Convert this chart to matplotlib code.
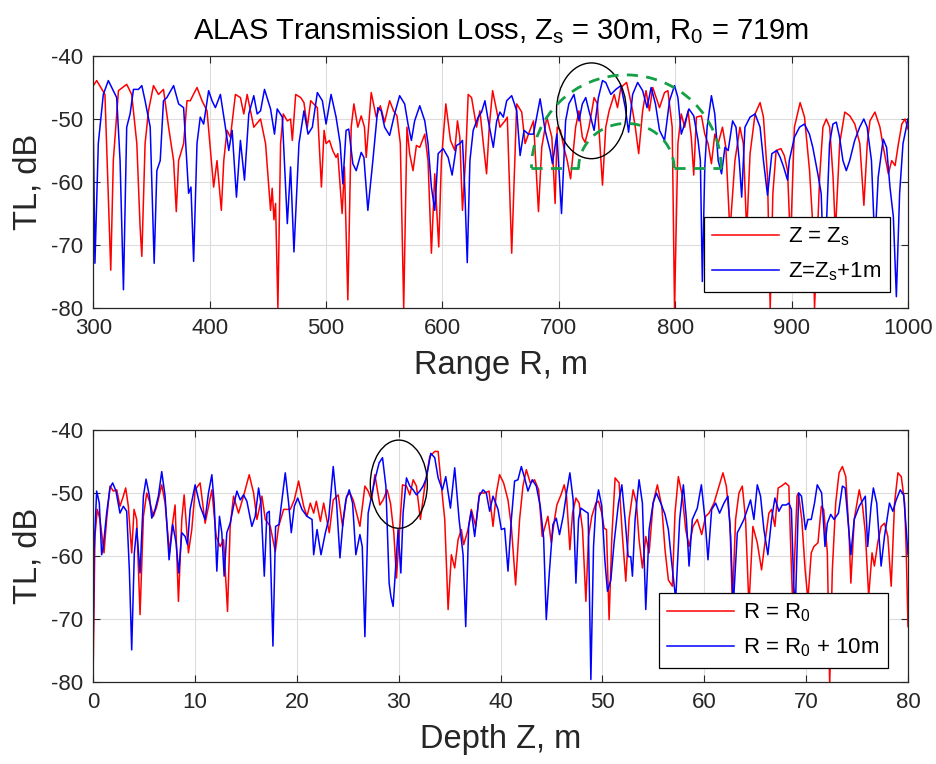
import matplotlib
matplotlib.use("Agg")
import matplotlib.pyplot as plt
from matplotlib.patches import Ellipse, Arc
import numpy as np

plt.rcParams['font.family'] = ['Liberation Sans', 'DejaVu Sans']
plt.rcParams['mathtext.default'] = 'regular'
plt.rcParams['axes.unicode_minus'] = False

# ---------------- data: top panel (TL vs range) ----------------
range_zs = [300, 302.9, 310, 315, 317.2, 321.6, 328.7, 333, 337.4, 340.2, 341.7, 344.5, 347.4, 351.7, 356, 360.3,
            364.7, 369, 371.3, 373.3, 377.6, 380.5, 383.3, 389.1, 393.4, 397.7, 403.4, 406.3, 410, 412.1, 414.9,
            417.8, 422.1, 426.4, 429.3, 432.2, 437.9, 443.7, 448, 452.3, 453.7, 455.2, 456.6, 458.6, 460.9, 463.2,
            466.7, 469.5, 471, 473.9, 478.2, 481, 483.9, 486.8, 492.5, 496, 498.3,
            500, 502.9, 505.7, 508.6, 510.1, 513.8, 515.8, 518.7, 521.6, 523.9, 527.3, 530.2, 533, 534.5, 538.8,
            543.1, 546.6, 550.3, 554.6, 558, 560.9, 563.8, 566.7, 569.5, 571.8, 574.7, 577.6, 580.5, 584.8, 587.6,
            590.5, 593.4, 596.8, 599.1, 602.9, 606.9, 610.6, 612.9, 614.9, 617.2, 619.8, 622.1, 625, 629.3, 632.2,
            635.1, 637.9, 640.2, 643.1, 646.6, 649.4, 653.7, 655.7, 659.5, 663.8, 668.1, 671, 673.9, 678.2, 682.5,
            685.3, 689.7, 694, 696.8,
            698.6, 701.4, 704.3, 707.2, 710.1, 714.4, 717.3, 720.2, 722.5, 725.9, 730.3, 733.1, 737.5, 740.3, 743.2,
            747.6, 750.4, 753.3, 758.2, 760.5, 763.4, 765.7, 768.6, 772, 774.9, 777.8, 780.7, 783.6, 786.5, 790.8,
            793.7, 797.4, 799.4, 802.3, 805.2, 808.1, 811, 813.8, 815.9, 818.2, 822.5, 825.4, 828.2, 831.1, 834,
            836.9, 840.6, 843.5, 847, 851.3, 855.6, 858.5, 861.4, 864.3, 868.6, 872.9, 875.8, 879.3, 881.6, 883.9,
            886.7, 890.8, 893.7, 896.5,
            899, 902.4, 907.3, 911.1, 915.4, 918.3, 919.7, 924.1, 926.9, 929.8, 932.7, 935.6, 937.6, 941.3, 945.7,
            950, 954.3, 958.6, 962.1, 965, 967.3, 971.6, 975.9, 978.8, 983.1, 986, 988.9, 991.8, 994.7, 997.5, 1000]
tl_zs = [-44.7, -43.9, -46.1, -74, -56.6, -45.5, -44.5, -46.1, -53.9, -67.1, -71.8, -53.9, -48.7, -44.7, -46.1, -45.3,
         -51.3, -56.6, -64.7, -56.6, -53.9, -47.1, -47.1, -45, -47.1, -48.7, -60.8, -56.6, -64.5, -56.6, -51.8,
         -52.9, -46.1, -46.6, -49.2, -46.1, -51.3, -50, -53.9, -64.5, -61, -66, -63.4, -80, -53.9, -49.2,
         -50.3, -50, -53.4, -46.1, -46.6, -47.4, -51.3, -47.1, -48.2, -60.8, -51.8,
         -53.9, -53.4, -55, -56.1, -55.5, -65, -57.6, -78.7, -51.3, -47.6, -51.3, -49.5, -51.3, -56.1, -45.8,
         -49.7, -47.9, -50.5, -47.1, -48.7, -49.5, -53.9, -80, -51.3, -55.5, -58.2, -54.2, -54.5, -52.4, -56.6,
         -71.3, -58.7, -70.3, -56.6, -47.6, -53.4, -55, -50.3, -52.9, -64.5, -56.6, -46.1, -46.6, -51.3, -48.7,
         -53.9, -58.7, -51.3, -45.5, -48.7, -51.3, -50.3, -49.7, -71.3, -47.6, -48.9, -53.9, -52.4, -50.3, -64.7,
         -54.5, -49.7, -52.9, -63.4,
         -51.3, -51.8, -54.5, -56.6, -59.5, -51.3, -48.7, -52.9, -53.7, -51.3, -46.6, -47.6, -60.5, -51.3, -48.7,
         -46.1, -48.2, -45, -44.2, -46.1, -48.7, -51.3, -55.5, -48.7, -45.5, -48.7, -45, -46.6, -48.2, -45.8,
         -45.5, -51.3, -80, -53.9, -49.2, -51.3, -48.7, -52.9, -58.9, -49.7, -49.5, -52.4, -53.9, -57.1, -52.4,
         -53.9, -51.3, -54.5, -68, -56.6, -51.3, -53.9, -68, -55.5, -49.2, -47.4, -49.7, -59.2, -80, -61.8,
         -55, -54.7, -55.8, -58.2,
         -70, -51.3, -47.4, -49.7, -58.2, -67.1, -80, -59.2, -51.3, -50, -51.3, -59.2, -68, -53.9, -48.9,
         -49.5, -50.8, -53.9, -63.7, -53.9, -50.3, -48.9, -51.3, -54.5, -58.7, -56.6, -57.4, -53.9, -50.8, -50, -51.6]

range_zs1 = [300, 301.4, 304.3, 308.6, 312.9, 317.2, 320.1, 323, 325.9, 328.7, 331.6, 334.5, 338.8, 341.7, 344.5,
             348.9, 352.3, 354.6, 357.5, 360.3, 363.2, 369, 373.3, 377.6, 381.9, 383.9, 386.2, 389.1, 391.9, 394.8,
             399.1, 402, 404.9, 409.2, 413.5, 416.4, 419.3, 423, 426.4, 429.9, 433.6, 437.9, 440.8, 443.7, 447.1,
             452.3, 455.7, 458, 462.4, 466.7, 469.5, 472.4, 476.7, 481, 484.5, 488.2, 492.5, 496.8,
             500, 504.3, 508.6, 512.1, 514.4, 517.2, 519.5, 523, 525.9, 530.2, 532.5, 535.9, 540.2, 544.5, 547.4,
             550.3, 554.6, 558.9, 563.2, 567.5, 570.4, 573.3, 576.1, 580.5, 584.8, 587.6, 590.5, 593.4, 596.3, 600.6,
             604.9, 608.3, 612.1, 614.9, 617.2, 619.3, 621.3, 623.6, 626.4, 630.7, 633.6, 636.5, 639.4, 643.7, 646.6,
             649.4, 652.3, 655.2, 659.5, 663.8, 666.7, 670.1, 673.9, 678.2, 683.9, 688.2, 692.5, 694.5, 698.3,
             702.3, 705.8, 708.6, 713, 717.3, 720.2, 723.1, 725.9, 730.3, 734, 737.5, 740.3, 744.7, 749, 753.3,
             757.1, 759.9, 763.4, 767.7, 772, 775.8, 779.3, 783, 786.5, 790.8, 795.1, 799.4, 802.3, 805.2, 807.2,
             811.8, 815.9, 819.6, 821.6, 823.3, 825.4, 827.4, 831.1, 834, 836.9, 839.8, 842.7, 845.5, 849.3, 852.2,
             855, 857.1, 859.9, 864.3, 868.6, 872.9, 875.8, 879.3, 883, 887.3, 890.2, 893.1, 896.5,
             898, 902.4, 906.8, 911, 915.3, 918.2, 922.5, 925.4, 928, 932.6, 935.5, 938.4, 941.2, 944.1, 947,
             949.9, 954.2, 958.5, 962, 964.9, 968.6, 971.5, 974.4, 978.7, 981.6, 984.5, 987.4, 990, 992.8, 995.7, 1000]
tl_zs1 = [-51.8, -72.9, -53.9, -46.1, -43.9, -45.5, -46.6, -56.6, -77.1, -51.3, -49.2, -45.3, -45.3, -44.7, -47.1,
          -51.3, -72.9, -58.2, -56.6, -47.1, -46.6, -44.7, -47.6, -48.2, -61.8, -60.8, -72.6, -53.9, -49.7, -50.8,
          -45.5, -47.1, -48.2, -46.1, -51.3, -55, -51.8, -62.4, -53.4, -59.7, -49.2, -46.3, -49.2, -48.7, -45.3,
          -48.4, -52.4, -48.4, -49.7, -66.6, -57.6, -71.1, -53.9, -48.7, -52.4, -51.3, -45.8, -47.1,
          -50.8, -46.1, -49.7, -53.9, -60.3, -51.8, -51.6, -57.1, -58.2, -55.3, -56.1, -64.5, -56.6, -48.2, -48.7,
          -51.3, -52.6, -49.2, -46.3, -47.6, -50.8, -53.4, -50.3, -47.9, -50.3, -53.9, -60.8, -64.5, -55.5, -54.7,
          -56.1, -58.9, -54.2, -53.9, -53.4, -61.8, -72.8, -56.6, -51.8, -49.7, -48.9, -47.1, -50.3, -54.5, -50.3,
          -48.9, -49.7, -47.1, -46.3, -48.7, -55.8, -51.8, -52.4, -52.4, -46.8, -51.8, -55, -57.1, -52.4,
          -65, -50.3, -47.6, -46.1, -50.3, -47.6, -46.6, -48.7, -51.8, -46.6, -43.9, -44.2, -46.1, -45.3, -44.7,
          -48.2, -52.1, -46.1, -44.2, -45.5, -48.2, -45, -47.6, -51.8, -53.4, -47.1, -44.7, -46.6, -52.4, -51.3,
          -48.4, -49.5, -53.4, -56.6, -75.8, -57.6, -51.3, -46.3, -49.2, -56.6, -58.7, -54.5, -55, -50.3, -51.3,
          -56.6, -62.4, -51.3, -49.7, -49.2, -51.3, -56.6, -62.1, -55.5, -55, -56.1, -57.6, -59.7,
          -56.6, -52.9, -51.3, -50.8, -52.4, -54.5, -58.7, -61.8, -76, -53.9, -50.8, -50.5, -52.9, -56.6, -58.2,
          -56.6, -53.4, -51.3, -50, -51.3, -56.6, -70, -59.2, -53.2, -54.5, -60.8, -65.5, -78.2, -61.8, -53.9, -50]

# ---------------- data: bottom panel (TL vs depth) ----------------
depth_r0 = [0, 0.16, 0.39, 0.66, 1.05, 1.31, 1.64, 1.97, 2.3, 2.62, 2.95, 3.18, 3.44, 3.77, 4.0, 4.26, 4.59, 4.92,
            5.25, 5.57, 5.9, 6.23, 6.72, 7.05, 7.48, 7.7, 8.03, 8.36, 8.69, 8.92, 9.34, 9.67, 10, 10.49, 10.98,
            11.64, 12.07, 12.46, 12.79, 13.18, 13.44, 13.77, 14.26, 14.75, 15.31, 15.74, 16.07, 16.56, 16.89, 17.38,
            17.87, 18.2, 18.69, 19.34, 19.74, 20.16, 20.66, 20.98, 21.31, 21.64, 21.9, 22.3, 22.62,
            23.17, 23.56, 24.05, 24.48, 24.87, 25.2, 25.52, 25.85, 26.18, 26.67, 26.99, 27.32, 27.65, 28.14, 28.46,
            28.86, 29.18, 29.51, 29.77, 30.03, 30.36, 30.75, 31.08, 31.41, 31.73, 32.12, 32.55, 33.04, 33.53, 33.86,
            34.18, 34.51, 34.84, 35.16, 35.49, 35.82, 36.14, 36.37, 36.8, 37.12, 37.55, 37.94, 38.43, 38.86, 39.25,
            39.58, 39.9, 40.29, 40.72, 41.05, 41.47, 41.86, 42.19, 42.52, 42.91, 43.33, 43.73, 44.08, 44.64, 44.97,
            45.29, 45.52, 45.92, 46.24, 46.47, 46.8, 47.06, 47.39, 47.71, 48.04, 48.37, 48.63, 48.95, 49.35, 49.61,
            49.93, 50.16, 50.39, 50.65, 50.92, 51.24, 51.63, 51.96, 52.29, 52.61, 53.01, 53.33, 53.59, 53.92, 54.25,
            54.58, 54.97, 55.39, 55.82, 56.14, 56.47, 56.86, 57.12, 57.45, 57.84, 58.17, 58.5, 58.89, 59.31, 59.74,
            60.13, 60.46, 60.95, 61.44, 61.83, 62.16, 62.52, 62.75, 63.07, 63.4, 63.73, 64.05, 64.38, 64.77, 65.2,
            65.62, 65.95, 66.34, 66.6, 66.93, 67.25, 67.58, 67.97, 68.3,
            68.45, 68.68, 69.1, 69.24, 69.57, 69.9, 70.17, 70.5, 70.76, 71.16, 71.49, 71.72, 72.08, 72.31, 72.57,
            72.9, 73.23, 73.56, 73.89, 74.22, 74.39, 74.72, 75.21, 75.54, 75.81, 76.14, 76.47, 76.7, 77.03, 77.36,
            77.69, 78.02, 78.35, 78.68, 79.01, 79.34, 79.67, 79.83, 80]
tl_r0 = [-76.5, -56.9, -52.6, -54.2, -59.5, -54.2, -48.9, -49.7, -49.5, -52.1, -50.5, -49.2, -52.1, -59.5, -52.6,
         -54.2, -69.3, -53.7, -50, -51.6, -53.7, -52.1, -48.7, -51.6, -59.5, -55.8, -51.9, -67.2, -54.2, -50.3,
         -59.5, -55.8, -49.5, -48.4, -54.8, -49.5, -56.9, -58.5, -57.4, -68.8, -55.3, -50.5, -53.2, -50.5, -47.1,
         -50, -54.2, -50.5, -54.2, -55.3, -59.3, -55.3, -52.6, -52.6, -51.1, -48.1, -52.1, -53.7, -51.6, -53.2,
         -51.3, -54.5, -51.6,
         -56.3, -51.1, -50.3, -55.3, -50.5, -50, -51.1, -53.2, -55.3, -48.9, -49.7, -51.1, -47.1, -51.9, -51.1,
         -49.5, -51.6, -56.3, -63.5, -56.9, -48.7, -48.9, -50.3, -47.9, -48.9, -54.2, -48.9, -44.2, -43.4, -43.4,
         -48.9, -54.2, -68.5, -59.8, -61.9, -57.4, -55.8, -58.2, -55.8, -52.6, -55.3, -50, -50, -49.7, -55.3,
         -50, -47.1, -48.4, -51.1, -55.3, -64.6, -54.2, -48.9, -46.3, -48.4, -47.9, -49.5, -56.9, -53.7, -57.9,
         -54.2, -51.9, -50.3, -48.7, -50.5, -59, -53.2, -50.8, -51.6, -55.8, -67.2, -56.9, -53.7, -51.6, -51.3,
         -53.2, -55.6, -55.8, -70.1, -56.9, -47.6, -48.4, -56.9, -64, -54.2, -49.5, -51.6, -57.4, -61.9, -56.9,
         -59.5, -51.6, -48.7, -52.1, -59, -63.8, -64.8, -53.2, -47.4, -50.5, -55.8, -58.5, -55.3, -54.2, -56.6,
         -53.7, -53.2, -51.6, -48.9, -46.8, -48.9, -54.8, -68, -54.2, -50, -48.9, -54.2, -68, -55.3, -57.9,
         -62.2, -57.9, -53.2, -52.6, -55.3, -49.2, -48.9, -48.4, -48.9,
         -56.9, -68, -50.5, -50, -54.2, -62.2, -66.9, -59.5, -58.5, -57.9, -52.1, -52.6, -59.5, -80.5, -62.2,
         -51.6, -46.8, -45.8, -47.4, -56.9, -64.3, -54.2, -49.5, -52.1, -56.3, -66.4, -59.5, -61.6, -57.9, -55.3,
         -54.8, -56.9, -64.8, -51.6, -46.8, -47.4, -51.6, -59.5, -71.2]

depth_r10 = [0, 0.07, 0.33, 0.59, 0.82, 0.98, 1.31, 1.64, 1.9, 2.23, 2.62, 2.95, 3.28, 3.54, 3.77, 4.03, 4.26, 4.59,
             4.92, 5.18, 5.51, 5.74, 6.07, 6.39, 6.72, 7.05, 7.44, 7.8, 8.13, 8.39, 8.69, 9.02, 9.25, 9.51, 10,
             10.49, 10.98, 11.31, 11.64, 11.87, 12.13, 12.39, 12.62, 12.85, 13.11, 13.44, 13.77, 14.1, 14.43, 14.75,
             15.08, 15.57, 15.9, 16.23, 16.46, 16.79, 17.05, 17.28, 17.64, 17.9, 18.23, 18.52, 18.85, 19.18, 19.44,
             19.74, 20.07, 20.49, 20.98, 21.48, 21.64, 21.97, 22.36, 22.79, 23.11,
             23.56, 23.89, 24.22, 24.54, 24.8, 25.13, 25.46, 25.78, 26.18, 26.41, 26.67, 26.99, 27.32, 27.65, 28.07,
             28.4, 28.73, 29.05, 29.22, 29.44, 29.67, 29.93, 30.2, 30.42, 30.75, 31.08, 31.41, 31.73, 32.06, 32.39,
             32.71, 33.14, 33.53, 33.86, 34.28, 34.61, 35.07, 35.49, 35.92, 36.31, 36.57, 36.86, 37.12, 37.45, 37.88,
             38.27, 38.59, 38.92, 39.25, 39.74, 40.07, 40.39, 40.72, 41.05, 41.37, 41.7, 42.03, 42.35, 42.68, 43.1,
             43.5, 43.89, 44.22, 44.48, 44.8, 45.13, 45.46, 45.78,
             46.14, 46.47, 46.8, 47.12, 47.39, 47.65, 47.88, 48.3, 48.59, 48.86, 49.12, 49.35, 49.61, 49.93, 50.23,
             50.49, 50.82, 51.14, 51.57, 51.9, 52.22, 52.52, 52.78, 52.94, 53.2, 53.59, 53.92, 54.25, 54.58, 54.97,
             55.29, 55.72, 56.14, 56.47, 56.8, 57.19, 57.58, 57.94, 58.24, 58.5, 58.82, 59.31, 59.71, 60.07, 60.36,
             60.72, 61.11, 61.5, 61.93, 62.32, 62.58, 62.84, 63.24, 63.56, 63.89, 64.22, 64.54, 64.87, 65.2, 65.52,
             65.85, 66.24, 66.6, 66.93, 67.32, 67.65, 68.04, 68.3,
             68.55, 68.78, 68.94, 69.27, 69.54, 69.93, 70.17, 70.5, 70.82, 71.09, 71.52, 71.85, 72.08, 72.41, 72.74,
             73.17, 73.56, 73.83, 74.16, 74.39, 74.72, 75.21, 75.81, 76.04, 76.37, 76.6, 76.93, 77.36, 77.69, 78.18,
             78.51, 78.84, 79.24, 79.57, 79.83, 80]
tl_r10 = [-72.2, -59.5, -49.7, -51.6, -59.8, -58.5, -53.2, -49.2, -48.4, -49.7, -53.2, -52.1, -52.9, -62.2, -74.9,
          -59.5, -55.6, -62.7, -50.5, -47.8, -50.5, -54, -52.6, -50.5, -46.6, -50.5, -60.6, -55, -57.9, -62.7,
          -56.3, -56.9, -58.2, -52.6, -48.7, -52.1, -54.2, -50, -47.1, -51.6, -62.4, -53.7, -56.3, -63.2, -56.3,
          -54.8, -52.1, -49.7, -51.1, -50.3, -51.3, -55.3, -53.7, -49.2, -51.6, -63.2, -53.2, -52.9, -74.3, -55.3,
          -55, -51.1, -46.8, -51.6, -56.3, -52.1, -50.8, -52.6, -53.7, -54.2, -59.8, -55.8, -59.8, -56.3, -54.2,
          -45.8, -51.6, -60.3, -54.2, -51.1, -49.5, -51.6, -59.8, -56.6, -58.5, -72.8, -53.2, -50.5, -47.9, -45.2,
          -44.4, -48.9, -64.3, -66.4, -68, -62.2, -55.8, -62.7, -53.2, -47.6, -48.9, -49.5, -50.3, -49.7, -48.9,
          -47.6, -43.7, -44.4, -47.6, -49.5, -47.4, -52.4, -46, -54.2, -59.8, -71.2, -55.3, -52.9, -56.9, -50.5,
          -49.5, -50, -52.9, -50.5, -52.6, -55.8, -55.6, -62.4, -54.2, -48.1, -47.9, -45.8, -47.6, -49.7, -47.9,
          -48.9, -52.1, -57.1, -70.1, -62.2, -55, -54, -56.6,
          -53.7, -50, -46.8, -51.1, -64.3, -54.2, -52.4, -52.9, -53.2, -79.6, -58.5, -52.1, -49.5, -52.1, -60.6,
          -65.6, -63.8, -57.9, -51.6, -48.7, -54.2, -60.1, -60.1, -63.2, -54.2, -47.9, -51.6, -68.5, -55.8, -51.6,
          -50, -51.6, -53.4, -55.8, -61.1, -66.9, -54.2, -48.7, -54.2, -61.6, -54.2, -52.4, -48.7, -54.2, -60.6,
          -52.6, -51.6, -53.2, -51.6, -50.5, -56.9, -68, -56.3, -55.3, -54.2, -52.6, -51.1, -54.2, -48.7, -50.5,
          -55.8, -59.8, -54.2, -50.8, -52.9, -51.9, -51.9, -51.6,
          -52.6, -64.8, -68, -50, -50.5, -55.8, -54.2, -54.2, -51.6, -48.7, -50, -58.5, -54.8, -53.4, -54.2,
          -53.2, -48.9, -49.2, -55.3, -59.8, -54.2, -52.1, -50.5, -58.5, -52.1, -49.2, -51.6, -61.6, -56.9, -51.6,
          -52.9, -51.1, -49.5, -50.3, -55.8, -59.8]

title_text = 'ALAS Transmission Loss, Z$_s$ = 30m, R$_0$ = 719m'
top_labels = ['Z = Z$_s$', 'Z=Z$_s$+1m']
bottom_labels = ['R = R$_0$', 'R = R$_0$ + 10m']

# ---------------- figure ----------------
fig = plt.figure(figsize=(9.36, 7.64), dpi=100)
W, H = 936, 764
ax1 = fig.add_axes([93.3 / W, 1 - 308 / H, (908 - 93.3) / W, 252 / H])
ax2 = fig.add_axes([93.3 / W, 1 - 682 / H, (908 - 93.3) / W, 252 / H])

txtc = '#262626'
lw = 1.1

def style(ax):
    ax.set_ylim(-80, -40)
    ax.set_yticks([-80, -70, -60, -50, -40])
    ax.grid(True, color='#dcdcdc', linewidth=0.8)
    ax.set_axisbelow(True)
    ax.tick_params(direction='in', length=5, width=0.8, colors=txtc, labelsize=16,
                   top=True, right=True, pad=7)
    for s in ax.spines.values():
        s.set_color(txtc)
        s.set_linewidth(0.9)

ax1.plot(range_zs, tl_zs, color='red', lw=lw, label=top_labels[0])
ax1.plot(range_zs1, tl_zs1, color='blue', lw=lw, label=top_labels[1])
ax1.set_xlim(300, 1000)
ax1.set_xticks(np.arange(300, 1001, 100))
style(ax1)
ax1.set_xlabel('Range R, m', fontsize=23.5, color=txtc, labelpad=8)
ax1.set_ylabel('TL, dB', fontsize=23.5, color=txtc, labelpad=6)
ax1.set_title(title_text, fontsize=21, color='#000000', pad=12)

# annotations top
ax1.add_patch(Ellipse((728, -48.7), 60, 15.2, fill=False, edgecolor='black', lw=1.0, zorder=5))
cx, base = 758, -57.8
ow, oh, iw, ih = 81.5, 14.8, 41, 7.1
gc = '#14a046'
ax1.add_patch(Arc((cx, base), 2 * ow, 2 * oh, theta1=0, theta2=180, edgecolor=gc, lw=2,
                  ls=(0, (4, 3)), zorder=5))
ax1.add_patch(Arc((cx, base), 2 * iw, 2 * ih, theta1=0, theta2=180, edgecolor=gc, lw=2,
                  ls=(0, (4, 3)), zorder=5))
ax1.plot([cx - ow, cx - iw], [base, base], color=gc, lw=2, ls=(0, (4, 3)), zorder=5)
ax1.plot([cx + iw, cx + ow], [base, base], color=gc, lw=2, ls=(0, (4, 3)), zorder=5)

leg1 = ax1.legend(loc='lower right', bbox_to_anchor=(1 - 18 / 815, 16 / 252), borderaxespad=0,
                  fontsize=16, handlelength=3.0, handletextpad=0.4, fancybox=False, edgecolor='black',
                  framealpha=1, borderpad=0.4, labelspacing=0.55)
leg1.get_frame().set_linewidth(0.9)

ax2.plot(depth_r0, tl_r0, color='red', lw=lw, label=bottom_labels[0])
ax2.plot(depth_r10, tl_r10, color='blue', lw=lw, label=bottom_labels[1])
ax2.set_xlim(0, 80)
ax2.set_xticks(np.arange(0, 81, 10))
style(ax2)
ax2.set_xlabel('Depth Z, m', fontsize=23.5, color=txtc, labelpad=8)
ax2.set_ylabel('TL, dB', fontsize=23.5, color=txtc, labelpad=6)
ax2.add_patch(Ellipse((30.0, -48.6), 5.6, 14, fill=False, edgecolor='black', lw=1.0, zorder=5))

leg2 = ax2.legend(loc='lower right', bbox_to_anchor=(1 - 20 / 815, 14 / 252), borderaxespad=0,
                  fontsize=16, handlelength=3.0, handletextpad=0.4, fancybox=False, edgecolor='black',
                  framealpha=1, borderpad=0.4, labelspacing=0.55)
leg2.get_frame().set_linewidth(0.9)

fig.savefig('out.png', dpi=100, facecolor='white')
